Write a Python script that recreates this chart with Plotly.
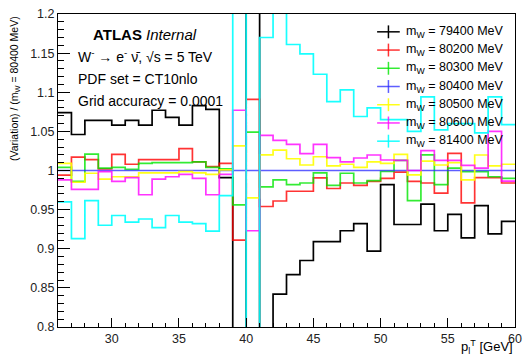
import plotly.graph_objects as go

# bin edges of the lepton pT histogram [GeV]
pt_edges = list(range(26, 61))

# ratio of each mass variation to the m_W = 80400 MeV template (one value per 1 GeV bin, 26..59)
r_79400 = [1.074, 1.046, 1.064, 1.064, 1.058, 1.064, 1.058, 1.077, 1.068, 1.058, 1.083, 1.078, 0.991,
           0.60, 1.60, 0.60,
           0.842, 0.867, 0.885, 0.909, 0.909, 0.923, 0.932, 0.897, 0.982, 0.931, 0.931, 0.957, 0.923,
           0.944, 0.914, 0.955, 0.919, 0.935]
r_80200 = [0.994, 1.017, 1.014, 1.002, 1.0205, 1.008, 1.014, 1.014, 1.014, 1.028, 1.011, 1.005, 1.009,
           0.911, 1.091,
           0.954, 0.961, 0.9735, 0.9735, 0.9905, 0.977, 0.984, 0.981, 0.986, 0.990, 0.998, 0.986, 0.984,
           0.971, 1.022, 0.9585, 0.991, 0.991, 0.984]
r_80300 = [1.004, 0.986, 1.021, 1.003, 1.004, 1.0015, 1.009, 1.010, 1.010, 1.010, 1.011, 1.004, 1.002,
           0.956, 1.049,
           0.979, 0.988, 0.982, 0.984, 0.997, 0.981, 0.9965, 0.984, 0.987, 0.999, 1.013, 0.9615, 1.020,
           0.982, 1.003, 0.9986, 0.9986, 0.992, 0.990]
r_80400 = [1.0, 1.0, 1.0, 1.0, 1.0, 1.0, 1.0, 1.0, 1.0, 1.0, 1.0, 1.0, 1.0,
           1.0, 1.0,
           1.0, 1.0, 1.0, 1.0, 1.0, 1.0, 1.0, 1.0, 1.0, 1.0, 1.0, 1.0, 1.0,
           1.0, 1.0, 1.0, 1.0, 1.0, 1.0]
r_80500 = [1.009, 0.985, 0.9965, 0.989, 0.992, 0.992, 0.997, 0.997, 0.997, 0.9986, 0.997, 0.995, 1.0007,
           1.0315, 0.965,
           1.020, 1.026, 1.015, 1.007, 1.0176, 1.006, 1.008, 1.004, 1.011, 1.009, 1.0205, 0.9944, 1.012,
           1.007, 1.010, 0.988, 1.0198, 1.006, 1.008]
r_80600 = [0.988, 0.976, 0.976, 0.9986, 0.986, 0.991, 0.969, 0.989, 0.992, 0.995, 0.990, 0.969, 0.995,
           1.077, 0.923,
           1.045, 1.0385, 1.0335, 1.0215, 1.0335, 1.0165, 1.011, 1.016, 1.0198, 1.0134, 1.013, 1.000, 1.0255,
           1.013, 1.013, 1.0065, 1.003, 1.050, 0.9865]
r_81400 = [0.960, 0.913, 0.9615, 0.930, 0.9425, 0.934, 0.938, 0.927, 0.9425, 0.934, 0.932, 0.9226, 0.968,
           1.5, 0.5,
           1.170, 1.25, 1.161, 1.149, 1.123, 1.088, 1.103, 1.069, 1.080, 1.065, 1.065, 1.050, 1.094,
           1.052, 1.060, 1.060, 1.048, 1.094, 1.0585]

series_names = ["m<sub>W</sub> = 79400 MeV", "m<sub>W</sub> = 80200 MeV", "m<sub>W</sub> = 80300 MeV",
                "m<sub>W</sub> = 80400 MeV", "m<sub>W</sub> = 80500 MeV", "m<sub>W</sub> = 80600 MeV",
                "m<sub>W</sub> = 81400 MeV"]
series_vals = [r_79400, r_80200, r_80300, r_80400, r_80500, r_80600, r_81400]
series_colors = ["#000000", "rgba(255,0,0,0.8)", "rgba(0,230,0,0.8)", "rgba(40,40,255,0.75)",
                 "rgba(255,255,0,0.9)", "rgba(255,0,255,0.8)", "rgba(0,255,255,0.9)"]

x_ticks = [30, 35, 40, 45, 50, 55, 60]
x_ticklabels = ["30", "35", "40", "45", "50", "55", "60"]
y_ticks = [0.8, 0.85, 0.9, 0.95, 1.0, 1.05, 1.1, 1.15, 1.2]
y_ticklabels = ["0.8", "0.85", "0.9", "0.95", "1", "1.05", "1.1", "1.15", "1.2"]

FONT = "Liberation Sans, Arial, Helvetica, sans-serif"
W, H = 529, 357
ML, MR, MT, MB = 58, 7, 11, 30
PW, PH = W - ML - MR, H - MT - MB


def px_to_paper(px, py):
    return (px - ML) / PW, (H - MB - py) / PH


fig = go.Figure()
for name, vals, col in zip(series_names, series_vals, series_colors):
    fig.add_trace(go.Scatter(
        x=pt_edges, y=vals + [vals[-1]], mode="lines", line=dict(color=col, width=1.7, shape="hv"),
        name=name, showlegend=False, hoverinfo="skip"))

axis_common = dict(showline=True, mirror=True, linecolor="black", linewidth=1, showgrid=False,
                   zeroline=False, ticks="inside", tickcolor="black",
                   tickfont=dict(family=FONT, size=12.5, color="#222"))

fig.update_xaxes(range=[26, 60], tickvals=x_ticks, ticktext=x_ticklabels, ticklen=9,
                 minor=dict(dtick=1, tick0=0, ticklen=4.5, ticks="inside", tickcolor="black"),
                 **axis_common)
fig.update_yaxes(range=[0.8, 1.2], tickvals=y_ticks, ticktext=y_ticklabels, ticklen=12,
                 minor=dict(dtick=0.01, tick0=0, ticklen=6, ticks="inside", tickcolor="black"),
                 **axis_common)

text_font = dict(family=FONT, size=14, color="black")
annotations = [
    dict(text="<b>ATLAS</b> <i>Internal</i>", x=0.073, y=0.9335, xanchor="left", yanchor="middle",
         font=dict(family=FONT, size=15, color="black")),
    dict(text="W<sup>-</sup> → e<sup>-</sup> ν̄, √s = 5 TeV", x=0.0388, y=0.867, xanchor="left",
         yanchor="middle", font=text_font),
    dict(text="PDF set = CT10nlo", x=0.0388, y=0.791, xanchor="left", yanchor="middle", font=text_font),
    dict(text="Grid accuracy = 0.0001", x=0.0388, y=0.7214, xanchor="left", yanchor="middle", font=text_font),
    dict(text="(Variation) / (m<sub>W</sub> = 80400 MeV)", x=-0.095, y=1.0, xanchor="center", yanchor="top",
         textangle=-90, font=dict(family=FONT, size=10.5, color="black")),
    dict(text="p<sub>l</sub><sup>T</sup> [GeV]", x=1.0, y=0.0, xanchor="right", yanchor="middle", yshift=-20,
         font=dict(family=FONT, size=13, color="black")),
]

# legend (ROOT TLegend style: "+" symbol, transparent box)
shapes = []
leg_top, leg_step = 29.0, 18.4
sym_x0, sym_x1, text_x = 382, 405, 409
for i, (name, col) in enumerate(zip(series_names, series_colors)):
    cy = leg_top + i * leg_step
    xa, ya = px_to_paper(sym_x0, cy)
    xb, _ = px_to_paper(sym_x1, cy)
    xm, _ = px_to_paper((sym_x0 + sym_x1) / 2, cy)
    _, yt = px_to_paper(0, cy - 6.5)
    _, yb = px_to_paper(0, cy + 6.5)
    shapes.append(dict(type="line", xref="paper", yref="paper", x0=xa, x1=xb, y0=ya, y1=ya,
                       line=dict(color=col, width=1.5)))
    shapes.append(dict(type="line", xref="paper", yref="paper", x0=xm, x1=xm, y0=yb, y1=yt,
                       line=dict(color=col, width=1.5)))
    xt, yt2 = px_to_paper(text_x, cy)
    annotations.append(dict(text=name, x=xt, y=yt2, xanchor="left", yanchor="middle",
                            font=dict(family=FONT, size=12.5, color="black")))

for a in annotations:
    a.update(xref="paper", yref="paper", showarrow=False)

fig.update_layout(
    width=W, height=H,
    margin=dict(l=ML, r=MR, t=MT, b=MB),
    paper_bgcolor="white", plot_bgcolor="white",
    annotations=annotations, shapes=shapes, showlegend=False,
)

fig.write_html("out.html")
